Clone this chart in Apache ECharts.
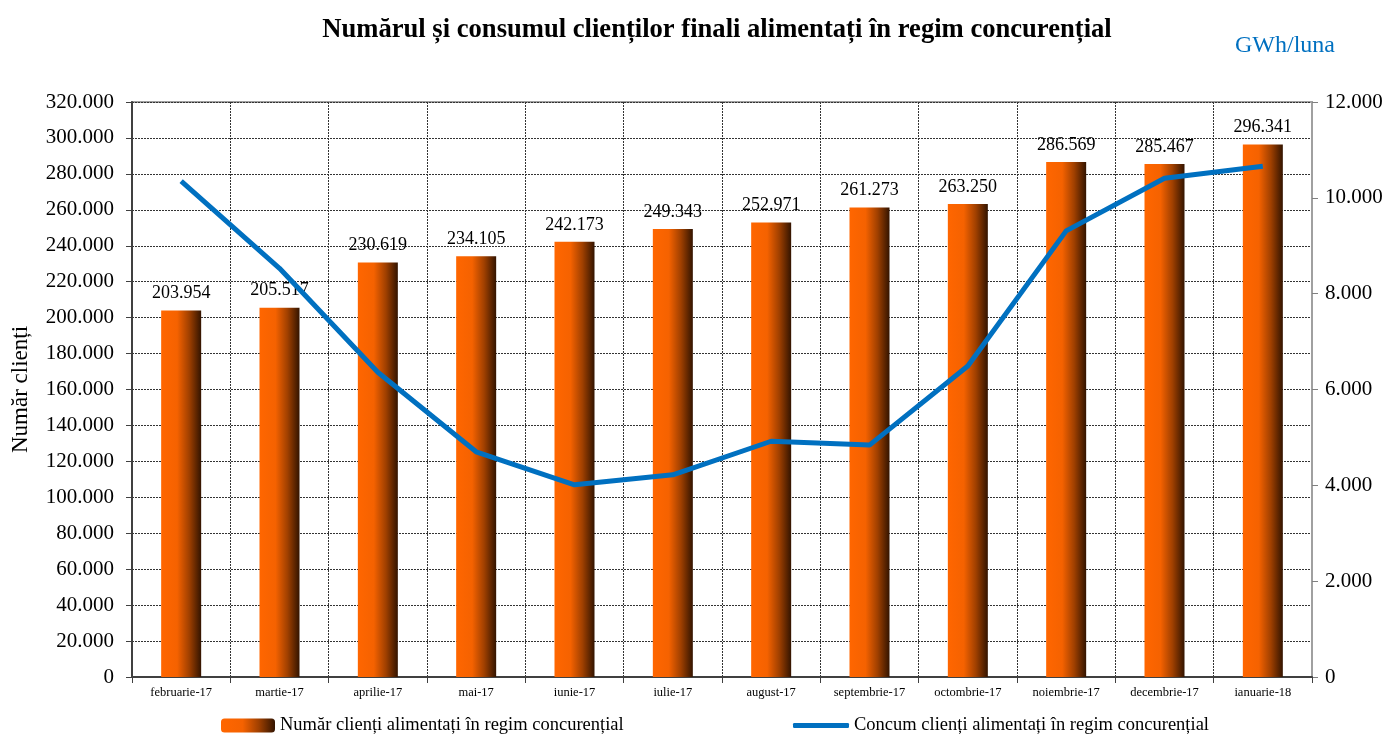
<!DOCTYPE html>
<html><head><meta charset="utf-8">
<script src="https://cdn.jsdelivr.net/npm/echarts@6/dist/echarts.min.js"></script>
<style>html,body{margin:0;padding:0;background:#fff}#c{width:1392px;height:734px}</style>
</head><body><div id="c"></div>
<script>
const categories = ['februarie-17','martie-17','aprilie-17','mai-17','iunie-17','iulie-17','august-17','septembrie-17','octombrie-17','noiembrie-17','decembrie-17','ianuarie-18'];
const clientCount = [203954,205517,230619,234105,242173,249343,252971,261273,263250,286569,285467,296341];
const consumption = [10350,8530,6360,4700,4010,4220,4920,4840,6490,9310,10410,10660];
const barName = 'Număr clienți alimentați în regim concurențial';
const lineName = 'Concum clienți alimentați în regim concurențial';

function fmt(v){ return String(Math.round(v)).replace(/\B(?=(\d{3})+(?!\d))/g,'.'); }
const serif = 'Liberation Serif, Times New Roman, serif';
const barGrad = new echarts.graphic.LinearGradient(0,0,1,0,[
  {offset:0,color:'#FF6600'},{offset:0.4,color:'#F56200'},{offset:0.7,color:'#A04000'},{offset:1,color:'#331400'}]);

const chart = echarts.init(document.getElementById('c'));
chart.setOption({
  animation:false,
  textStyle:{fontFamily:serif},
  title:[{text:'Numărul și consumul clienților finali alimentați în regim concurențial',left:712,top:12,textAlign:'center',
    textStyle:{fontFamily:serif,fontSize:26.6,fontWeight:'bold',color:'#000'}},
    {text:'GWh/luna',left:1230,top:29,textStyle:{fontFamily:serif,fontSize:24,fontWeight:'normal',color:'#0070C0'}}],
  grid:{left:132,right:80,top:102,bottom:57,show:true,borderColor:'#a0a0a0',borderWidth:2,outerBoundsMode:'none',containLabel:false},
  legend:[{data:[{name:barName}],left:216,top:711,itemWidth:54,itemHeight:14,itemGap:6,
    textStyle:{fontFamily:serif,fontSize:18.5,color:'#000'}},
    {data:[{name:lineName,icon:'roundRect'}],left:788,top:711,itemWidth:56,itemHeight:5,itemGap:4,
    textStyle:{fontFamily:serif,fontSize:18.5,color:'#000'}}],
  xAxis:{type:'category',data:categories,boundaryGap:true,
    axisLine:{lineStyle:{color:'#404040',width:2}},
    axisTick:{show:true,length:6,lineStyle:{color:'#404040'}},
    axisLabel:{fontFamily:serif,fontSize:12.5,color:'#000',margin:9,interval:0},
    splitLine:{show:true,lineStyle:{color:'#333',type:[2,1],width:1}}},
  yAxis:[{type:'value',min:0,max:320000,interval:20000,name:'Număr clienți',nameLocation:'middle',nameGap:100,
    nameTextStyle:{fontFamily:serif,fontSize:23,color:'#000'},
    axisLine:{show:true,lineStyle:{color:'#404040',width:2}},
    axisTick:{show:true,length:6,lineStyle:{color:'#404040'}},
    axisLabel:{fontFamily:serif,fontSize:21,color:'#000',formatter:fmt,margin:18},
    splitLine:{show:true,lineStyle:{color:'#333',type:[2,1],width:1}}},
    {type:'value',min:0,max:12000,interval:2000,position:'right',
    axisLine:{show:true,lineStyle:{color:'#a0a0a0',width:2}},
    axisTick:{show:true,length:6,lineStyle:{color:'#808080'}},
    axisLabel:{fontFamily:serif,fontSize:21,color:'#000',formatter:fmt,margin:13},
    splitLine:{show:false}}],
  series:[{name:barName,type:'bar',data:clientCount,barWidth:40,
    itemStyle:{color:barGrad},
    label:{show:true,position:'top',distance:8,formatter:p=>fmt(p.value),fontFamily:serif,fontSize:18,color:'#000'}},
    {name:lineName,type:'line',yAxisIndex:1,data:consumption,symbol:'none',
    lineStyle:{color:'#0070C0',width:5},itemStyle:{color:'#0070C0'}}]
});
</script></body></html>
